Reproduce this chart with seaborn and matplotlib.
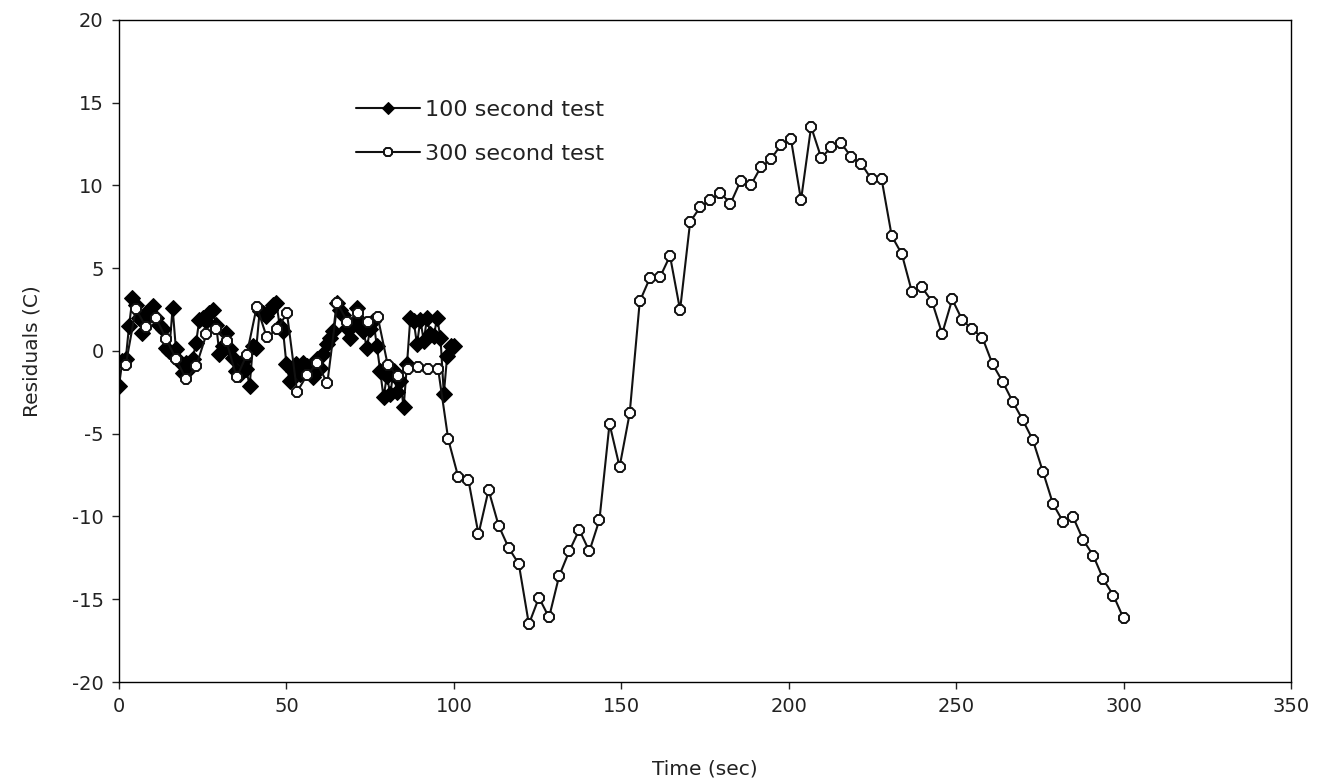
import matplotlib
matplotlib.use("Agg")
import matplotlib.pyplot as plt
import seaborn as sns
import pandas as pd
import numpy as np

# residuals of the 100 second test, one reading per second
time_100 = np.arange(0, 101)
resid_100 = [
    -2.1, -0.6, -0.5, 1.5, 3.2, 2.8, 2.0, 1.1, 2.3, 2.2,
    2.7, 2.0, 1.6, 1.3, 0.2, 0.0, 2.6, 0.1, -0.6, -1.3,
    -0.7, -1.1, -0.5, 0.5, 1.9, 2.0, 1.8, 2.3, 2.5, 1.6,
    -0.2, 0.3, 1.1, 0.1, -0.4, -1.2, -1.4, -0.6, -1.1, -2.1,
    0.3, 0.2, 2.4, 2.3, 2.1, 2.5, 2.8, 2.9, 1.5, 1.2,
    -0.8, -1.8, -1.2, -0.8, -1.4, -0.7, -0.9, -1.2, -1.6, -0.5,
    -1.0, -0.2, 0.4, 0.8, 1.2, 2.9, 2.5, 2.2, 1.4, 0.8,
    1.6, 2.6, 1.8, 1.2, 0.2, 1.3, 1.8, 0.3, -1.2, -2.8,
    -1.5, -2.6, -1.2, -2.5, -1.8, -3.4, -0.8, 2.0, 1.8, 0.4,
    1.9, 0.6, 2.0, 1.0, 0.9, 2.0, 0.8, -2.6, -0.3, 0.3,
    0.3,
]

# residuals of the 300 second test, one reading about every 3 seconds
time_300 = np.linspace(2, 300, 100)
resid_300 = [
    -0.85, 2.54, 1.47, 2.0, 0.73, -0.5, -1.72, -0.9, 1.0, 1.35,
    0.58, -1.6, -0.24, 2.68, 0.83, 1.31, 2.28, -2.46, -1.45, -0.74,
    -1.95, 2.88, 1.77, 2.28, 1.77, 2.07, -0.85, -1.51, -1.11, -0.99,
    -1.11, -1.11, -5.34, -7.63, -7.8, -11.06, -8.4, -10.55, -11.9, -12.87,
    -16.5, -14.9, -16.1, -13.6, -12.1, -10.8, -12.1, -10.2, -4.4, -7.0,
    -3.77, 3.0, 4.4, 4.45, 5.75, 2.48, 7.8, 8.7, 9.1, 9.57,
    8.9, 10.27, 10.0, 11.1, 11.58, 12.45, 12.8, 9.12, 13.55, 11.68,
    12.3, 12.55, 11.7, 11.3, 10.37, 10.37, 6.95, 5.86, 3.58, 3.85,
    2.98, 1.05, 3.12, 1.87, 1.31, 0.8, -0.79, -1.85, -3.06, -4.17,
    -5.38, -7.29, -9.24, -10.31, -10.05, -11.42, -12.37, -13.8, -14.78, -16.15,
]

x_ticks = np.arange(0, 351, 50)
y_ticks = np.arange(-20, 21, 5)

sns.set_theme(style="ticks")
plt.rcParams["font.family"] = ["DejaVu Sans"]
plt.rcParams["axes.unicode_minus"] = False
plt.rcParams["text.color"] = "#222222"

df100 = pd.DataFrame({"t": time_100, "r": resid_100[:len(time_100)]})
df300 = pd.DataFrame({"t": time_300, "r": resid_300})

fig = plt.figure(figsize=(13.18, 7.84), dpi=100)
ax = fig.add_axes([0.0903, 0.1301, 0.8892, 0.8444])

sns.lineplot(data=df100, x="t", y="r", sort=False, color="#111111", linewidth=1.5,
             marker="D", markersize=8.5, markerfacecolor="black", markeredgecolor="black",
             label="100 second test", ax=ax)
sns.lineplot(data=df300, x="t", y="r", sort=False, color="#111111", linewidth=1.5,
             marker="8", markersize=8, markerfacecolor="white", markeredgecolor="#111111",
             markeredgewidth=1.4, label="300 second test", ax=ax)

ax.set_xlim(0, 350)
ax.set_ylim(-20, 20)
ax.set_xticks(x_ticks)
ax.set_yticks(y_ticks)
ax.tick_params(direction="out", length=5, width=1, colors="#222222", labelsize=14, pad=6)
for s in ax.spines.values():
    s.set_visible(True)
    s.set_color("black")
    s.set_linewidth(1)

ax.set_xlabel("Time (sec)", fontsize=14.5, labelpad=31, color="#222222")
ax.set_ylabel("Residuals (C)", fontsize=14.5, labelpad=22, color="#222222")

leg = ax.legend(loc="upper left", bbox_to_anchor=(0.185, 0.909), frameon=False,
                fontsize=16, handlelength=2.9, handletextpad=0.2, labelspacing=1.05)
for h in leg.legend_handles:
    h.set_markersize(6)

fig.savefig("out.png", dpi=100)
